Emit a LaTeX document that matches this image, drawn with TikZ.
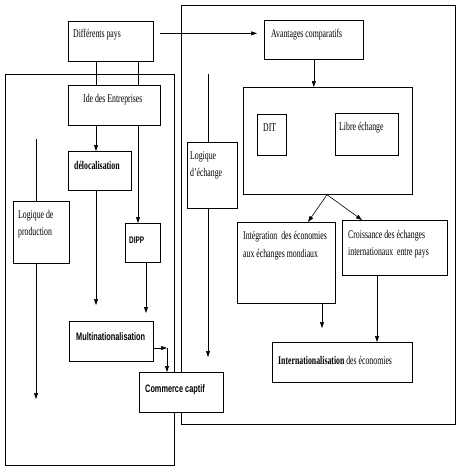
\documentclass[tikz,border=0pt]{standalone}
\usepackage{fontspec}
\setmainfont{Liberation Serif}[FakeStretch=0.66]
\newfontfamily\cfsans{Liberation Sans}[FakeStretch=0.68]
\usetikzlibrary{arrows.meta,calc}
\begin{document}
\begin{tikzpicture}[x=1pt,y=-1pt,
  box/.style={draw, line width=0.7pt, fill=white, inner sep=0pt, anchor=north west},
  lbl/.style={anchor=west, inner sep=0pt, align=left, font=\fontsize{11.8}{17.5}\selectfont},
  slbl/.style={anchor=west, inner sep=0pt, font=\cfsans\bfseries\fontsize{10.8}{12}\selectfont},
  arr/.style={-{Triangle[length=6pt,width=4pt]}, line width=0.6pt},
  ln/.style={line width=0.6pt},
  frame/.style={draw, line width=0.9pt}]
\useasboundingbox (0,0) rectangle (459,472);
% frames
\draw[frame] (5,74) rectangle (174,465);
\draw[frame] (181,5) rectangle (455,424);
% boxes
\node[box, minimum width=85pt, minimum height=40pt] (dp) at (68,21) {};
\node[box, minimum width=99pt, minimum height=39pt] (av) at (264,20) {};
\node[box, minimum width=169pt, minimum height=107pt] (big) at (243,87) {};
\node[box, minimum width=29pt, minimum height=41pt] (dit) at (257,114) {};
\node[box, minimum width=63pt, minimum height=42pt] (libre) at (335,113) {};
\node[box, minimum width=50pt, minimum height=66pt] (le) at (187,142) {};
\node[box, minimum width=92pt, minimum height=40pt] (ide) at (68,85) {};
\node[box, minimum width=63pt, minimum height=39pt] (deloc) at (68,151) {};
\node[box, minimum width=35pt, minimum height=39pt] (dipp) at (125,223) {};
\node[box, minimum width=56pt, minimum height=62pt] (lp) at (13,201) {};
\node[box, minimum width=84pt, minimum height=40pt] (multi) at (69,321) {};
\node[box, minimum width=84pt, minimum height=40pt] (cc) at (139,372) {};
\node[box, minimum width=98pt, minimum height=81pt] (integ) at (237,222) {};
\node[box, minimum width=105pt, minimum height=55pt] (crois) at (342,220) {};
\node[box, minimum width=140pt, minimum height=40pt] (intl) at (272,342) {};
% labels
\node[lbl] (dpt) at (73,35) {Différents pays};
\node[lbl] (avt) at (271,35) {Avantages comparatifs};
\node[lbl] (idet) at (83,100) {Ide des Entreprises};
\node[lbl, font=\bfseries\fontsize{11.8}{17.5}\selectfont] (delt) at (74,165) {délocalisation};
\node[lbl] (ditt) at (263,128) {DIT};
\node[lbl] (libt) at (339,128) {Libre échange};
\node[lbl] (let) at (190,165.5) {Logique\\d'échange};
\node[lbl] (lpt) at (18,224) {Logique de\\production};
\node[slbl, font=\cfsans\bfseries\fontsize{9.5}{11}\selectfont] (dippt) at (129,240) {DIPP};
\node[slbl] (multit) at (76,337) {Multinationalisation};
\node[slbl] (cct) at (145,390) {Commerce captif};
\node[lbl] (integt) at (243,245.5) {Intégration~ des économies\\aux échanges mondiaux};
\node[lbl] (croist) at (348,244) {Croissance des échanges\\internationaux~ entre pays};
\node[lbl] (intlt) at (278,360) {\textbf{Internationalisation} des économies};
% free ends
\coordinate (mc) at (167,348);
\coordinate (lptop) at (36,139);
\coordinate (lpend) at (36,399);
\coordinate (letop) at (208,74);
\coordinate (leend) at (208,357);
% connectors
\draw[arr, shorten <=6pt, shorten >=7pt] ([yshift=8pt]dp.east) -- ([yshift=6.5pt]av.west);
\draw[ln] ([xshift=28pt]dp.south west) -- ([xshift=28pt]ide.north west);
\draw[ln] ([xshift=70pt]dp.south west) -- ([xshift=70pt]ide.north west);
\draw[arr] ([xshift=70pt]ide.south west) -- ([xshift=13pt]dipp.north west);
\draw[arr] ([xshift=28pt]ide.south west) -- ([xshift=28pt]deloc.north west);
\draw[arr, shorten >=16pt] ([xshift=28pt]deloc.south west) -- ([xshift=27pt]multi.north west);
\draw[arr, shorten >=8pt] ([xshift=21pt]dipp.south west) -- ([xshift=77pt]multi.north west);
\draw[arr] (multi.east |- mc) -- (mc);
\draw[arr] (mc) -- (mc |- cc.north);
\draw[ln] (lptop) -- (lptop |- lp.north);
\draw[arr] (lpend |- lp.south) -- (lpend);
\draw[ln] (letop) -- (letop |- le.north);
\draw[arr] (leend |- le.south) -- (leend);
\draw[arr] (av.south) -- (av.south |- big.north);
\draw[arr] ([xshift=84pt]big.south west) -- ([xshift=71pt]integ.north west);
\draw[arr] ([xshift=84pt]big.south west) -- ([xshift=20pt]crois.north west);
\draw[arr, shorten >=14pt] ([xshift=85pt]integ.south west) -- ([xshift=50pt]intl.north west);
\draw[arr] ([xshift=35pt]crois.south west) -- ([xshift=105pt]intl.north west);
\end{tikzpicture}
\end{document}
